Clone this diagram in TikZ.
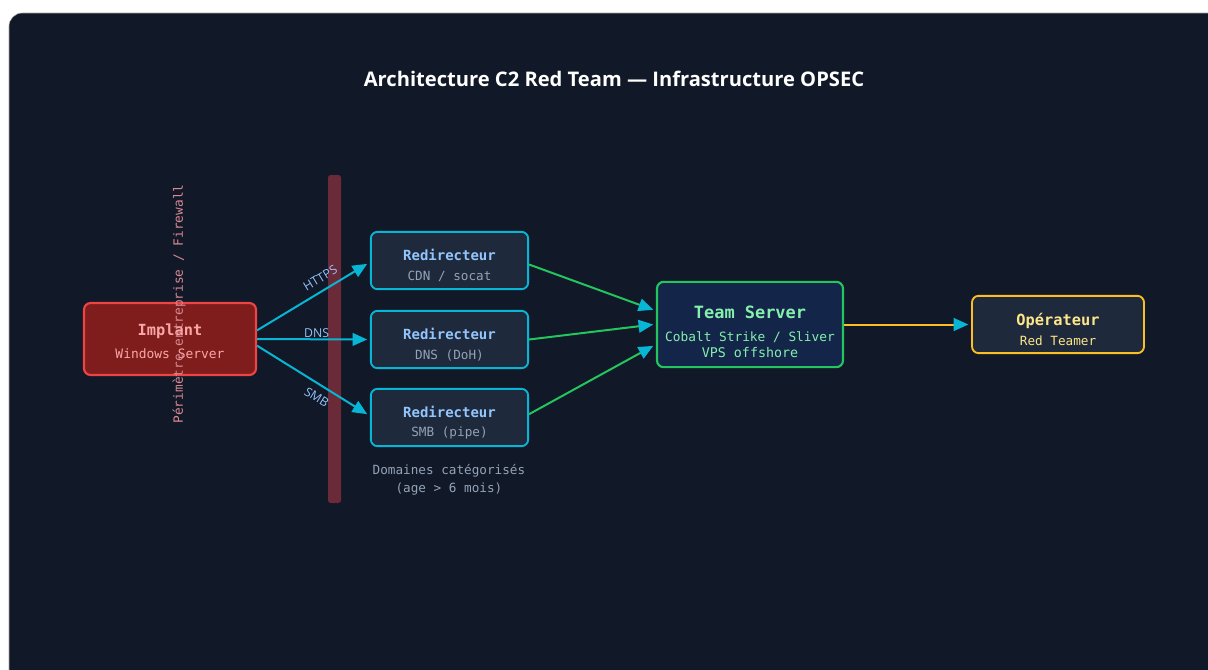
\documentclass[tikz,border=0pt]{standalone}
\usepackage{fontspec}
\setmainfont{Open Sans}
\setmonofont{DejaVu Sans Mono}
\usetikzlibrary{arrows.meta}

\definecolor{bgdark}{HTML}{111827}
\definecolor{implfill}{HTML}{7F1D1D}
\definecolor{implline}{HTML}{EF4444}
\definecolor{impltext}{HTML}{FCA5A5}
\definecolor{boxfill}{HTML}{1E293B}
\definecolor{cyanline}{HTML}{06B6D4}
\definecolor{bluetext}{HTML}{93C5FD}
\definecolor{graytext}{HTML}{94A3B8}
\definecolor{srvfill}{HTML}{13264A}
\definecolor{greenline}{HTML}{22C55E}
\definecolor{greentext}{HTML}{86EFAC}
\definecolor{yellowline}{HTML}{FBBF24}
\definecolor{yellowtext}{HTML}{FDE68A}
\definecolor{fwbar}{HTML}{6B2A38}
\definecolor{fwtext}{HTML}{D98A94}

\begin{document}
\begin{tikzpicture}[x=0.75pt, y=-0.75pt,
  >={Triangle[length=11pt, width=9.5pt, color=cyanline]},
  card/.style={rectangle, rounded corners=5pt, line width=1.6pt, inner sep=0pt},
  cardtext/.style={align=center, font=\ttfamily, inner sep=0pt},
  implantbox/.style={card, fill=implfill, draw=implline,
    minimum width=129pt, minimum height=54pt},
  redirbox/.style={card, fill=boxfill, draw=cyanline,
    minimum width=118pt, minimum height=43pt, line width=1.4pt},
  serverbox/.style={card, fill=srvfill, draw=greenline,
    minimum width=139.5pt, minimum height=64pt},
  opbox/.style={card, fill=boxfill, draw=yellowline,
    minimum width=129pt, minimum height=43pt, line width=1.4pt},
  link/.style={->, cyanline, line width=1.5pt},
  relay/.style={->, greenline, line width=1.5pt},
  feed/.style={->, yellowline, line width=1.5pt},
  proto/.style={font=\fontsize{9.2}{10}\selectfont, text=bluetext, inner sep=0pt},
  note/.style={font=\ttfamily\fontsize{9.5}{13.5}\selectfont, text=graytext, align=center}]

%background
\useasboundingbox (0,0) rectangle (1208,669);
\fill[white] (0,0) rectangle (1208,669);
\filldraw[fill=bgdark, draw=gray!70, line width=0.4pt, rounded corners=10pt]
  (9,13) rectangle (1230,690);

%title
\node[font=\bfseries\fontsize{15.1}{18}\selectfont, text=white] (title) at (614,78.5)
  {Architecture C2 Red Team — Infrastructure OPSEC};

%firewall
\fill[fwbar, rounded corners=2pt] (328,175) rectangle (341,503);

%implant
\node[implantbox] (implant) at (170,339) {};
\node[cardtext, text=impltext] (implanttxt) at (170,341.5)
  {\bfseries\fontsize{11.5}{13}\selectfont Implant\\[5.3pt]
   \mdseries\fontsize{9.7}{11}\selectfont Windows Server};

\node[rotate=90, font=\ttfamily\fontsize{9.6}{11}\selectfont, text=fwtext] (fwlabel) at (179,304)
  {Périmètre entreprise / Firewall};

%redirectors
\foreach \n/\y/\sub in {1/260.5/{CDN / socat}, 2/339.5/{DNS (DoH)}, 3/417.5/{SMB (pipe)}}{
  \node[redirbox] (r\n) at (449.5,\y) {};
  \node[cardtext, text=graytext] (r\n txt) at (449.5,\y+5)
    {\bfseries\fontsize{10.5}{12}\selectfont\textcolor{bluetext}{Redirecteur}\\[2.5pt]
     \mdseries\fontsize{9.5}{11}\selectfont \sub};
}

\node[note] (domains) at (449,480) {Domaines catégorisés\\(age > 6 mois)};

%team server
\node[serverbox] (server) at (750,324.5) {};
\node[cardtext, text=greentext] (servertxt) at (750,332)
  {\bfseries\fontsize{12.7}{14}\selectfont Team Server\\[5pt]
   \mdseries\fontsize{9.6}{13.3}\selectfont Cobalt Strike / Sliver\\VPS offshore};

%operator
\node[opbox] (operator) at (1058,324.5) {};
\node[cardtext, text=yellowtext] (operatortxt) at (1058,329.5)
  {\bfseries\fontsize{11.5}{13}\selectfont Opérateur\\[3pt]
   \mdseries\fontsize{9.5}{11}\selectfont Red Teamer};

%implant to redirectors
\draw[link] ([yshift=6.5pt]implant.east) -- ([xshift=-2pt,yshift=-2.5pt]r1.west)
  node[proto, pos=0.63, above=5pt, sloped] (lhttps) {HTTPS};
\draw[link] (implant.east) -- ([xshift=-2pt]r2.west)
  node[proto, pos=0.54, above=0.5pt] (ldns) {DNS};
\draw[link] ([yshift=-5pt]implant.east) -- ([xshift=-2pt,yshift=2.5pt]r3.west)
  node[proto, pos=0.6, below=5pt, sloped] (lsmb) {SMB};

%redirectors to team server
\draw[relay] ([yshift=-3pt]r1.east) -- ([xshift=-2pt,yshift=11pt]server.west);
\draw[relay] (r2.east) -- ([xshift=-2pt]server.west);
\draw[relay] ([yshift=2.5pt]r3.east) -- ([xshift=-2pt,yshift=-16pt]server.west);

%team server to operator
\draw[feed] (server.east) -- ([xshift=-2pt]operator.west);

\end{tikzpicture}
\end{document}
